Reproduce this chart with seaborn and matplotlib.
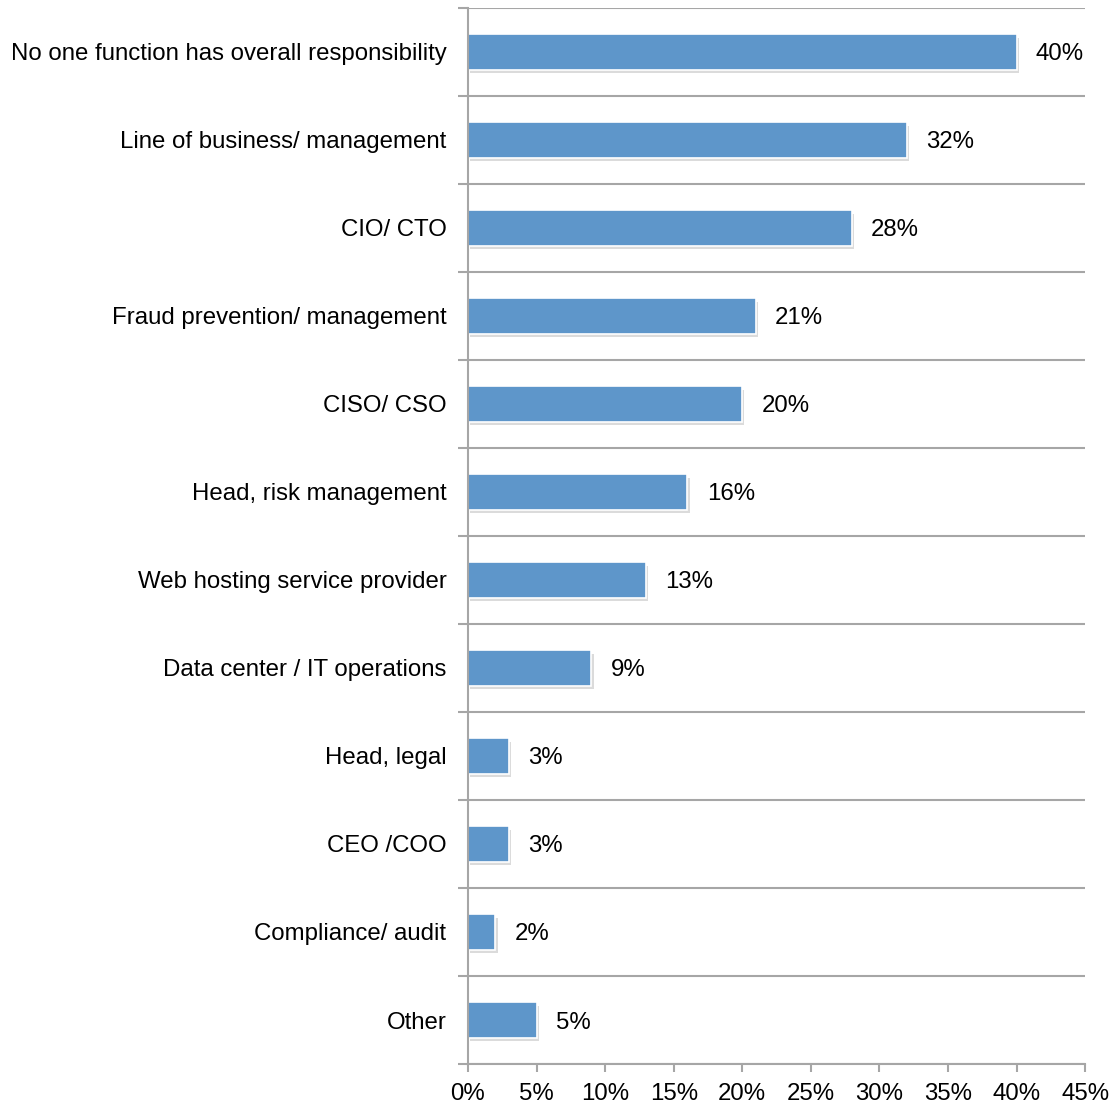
import matplotlib
matplotlib.use("Agg")
import matplotlib.pyplot as plt
import matplotlib.patheffects as pe
from matplotlib.ticker import FixedLocator, PercentFormatter
import numpy as np
import pandas as pd
import seaborn as sns

categories = [
    "No one function has overall responsibility",
    "Line of business/ management",
    "CIO/ CTO",
    "Fraud prevention/ management",
    "CISO/ CSO",
    "Head, risk management",
    "Web hosting service provider",
    "Data center / IT operations",
    "Head, legal",
    "CEO /COO",
    "Compliance/ audit",
    "Other",
]
values = [40, 32, 28, 21, 20, 16, 13, 9, 3, 3, 2, 5]
x_ticks = [0, 5, 10, 15, 20, 25, 30, 35, 40, 45]

df = pd.DataFrame({"function": categories, "share": values})

sns.set_theme(style="white")
plt.rcParams["font.family"] = ["Liberation Sans", "DejaVu Sans"]

fig = plt.figure(figsize=(11.14, 11.05), dpi=100)
ax = fig.add_axes([0.4201, 0.0371, 0.554, 0.9557])

bar_color = "#5E96CA"
sns.barplot(data=df, x="share", y="function", orient="h", color=bar_color,
            saturation=1, width=0.4, edgecolor="white", linewidth=1.2, ax=ax)

for patch in ax.patches:
    patch.set_path_effects([
        pe.SimplePatchShadow(offset=(1.5, -2.5), shadow_rgbFace="#999999", alpha=0.35),
        pe.Normal(),
    ])

n = len(categories)
ax.set_xlim(0, 45)
ax.set_ylim(n - 0.5, -0.5)

# Category separators as minor gridlines
boundaries = np.arange(n + 1) - 0.5
ax.yaxis.set_minor_locator(FixedLocator(boundaries))
ax.grid(axis="y", which="minor", color="#A6A6A6", linewidth=1.5)
ax.grid(axis="y", which="major", visible=False)
ax.grid(axis="x", visible=False)
ax.set_axisbelow(True)

fs = 17.3
ax.tick_params(axis="y", which="major", length=0, pad=15.5, labelsize=fs, labelcolor="black")
for lbl in ax.get_yticklabels():
    lbl.set_verticalalignment("center_baseline")
ax.tick_params(axis="y", which="minor", length=7, width=1.5, color="#A6A6A6", left=True)
ax.set_xticks(x_ticks)
ax.xaxis.set_major_formatter(PercentFormatter(decimals=0))
ax.tick_params(axis="x", which="major", length=6, width=1.5, color="#A6A6A6",
               bottom=True, labelsize=fs, labelcolor="black", pad=8)

for side in ["top", "right"]:
    ax.spines[side].set_visible(False)
for side in ["left", "bottom"]:
    ax.spines[side].set_color("#A6A6A6")
    ax.spines[side].set_linewidth(1.5)

ax.set_xlabel("")
ax.set_ylabel("")

for i, v in enumerate(values):
    ax.text(v + 1.4, i, f"{v}%", va="center_baseline", ha="left", fontsize=fs, color="black")

fig.savefig("out.png", dpi=100, facecolor="white")
